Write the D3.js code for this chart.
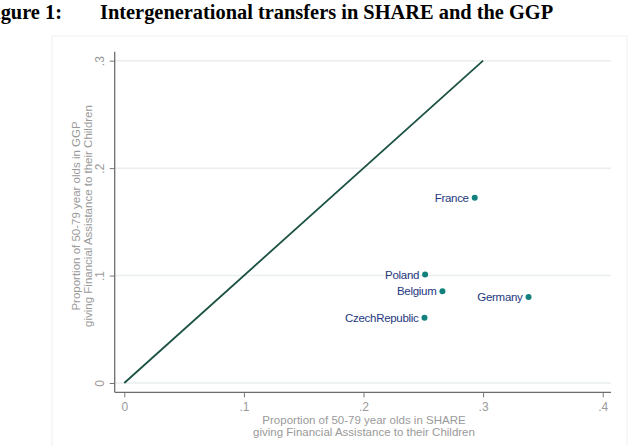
<!DOCTYPE html>
<html>
<head>
<meta charset="utf-8">
<script src="https://cdn.jsdelivr.net/npm/d3@7"></script>
<style>
  body { margin: 0; background: #fff; }
  svg { display: block; }
  text { font-family: Arial, "Liberation Sans", sans-serif; }
</style>
</head>
<body>
<div id="chart"></div>
<script>
const width = 642, height = 446;

// country points: SHARE proportion (x) vs GGP proportion (y)
const countries = ["France", "Poland", "Belgium", "Germany", "CzechRepublic"];
const shareValues = [0.293, 0.2515, 0.266, 0.338, 0.251];
const ggpValues = [0.1725, 0.101, 0.0855, 0.080, 0.0608];

// 45-degree reference line
const diagX = [0, 0.3];
const diagY = [0, 0.3];

const xTicks = [0, 0.1, 0.2, 0.3, 0.4];
const yTicks = [0, 0.1, 0.2, 0.3];

const svg = d3.select("#chart").append("svg")
    .attr("width", width)
    .attr("height", height);

const x = d3.scaleLinear().domain([0, 0.4]).range([124.3, 602.7]);
const y = d3.scaleLinear().domain([0, 0.3]).range([383, 60.7]);

const fmt = d => d === 0 ? "0" : d3.format(".1f")(d).replace(/^0/, "");

// title
svg.append("text")
    .attr("x", 62).attr("y", 19)
    .attr("text-anchor", "end")
    .style("font-family", "'Liberation Serif', 'Times New Roman', serif")
    .style("font-weight", "bold")
    .style("font-size", "20.4px")
    .text("Figure 1:");
svg.append("text")
    .attr("x", 100).attr("y", 19)
    .style("font-family", "'Liberation Serif', 'Times New Roman', serif")
    .style("font-weight", "bold")
    .style("font-size", "20.4px")
    .text("Intergenerational transfers in SHARE and the GGP");

// graph region frame
svg.append("rect")
    .attr("x", 52).attr("y", 36)
    .attr("width", 575).attr("height", 420)
    .attr("fill", "none")
    .attr("stroke", "#f0f0f0");

// gridlines
svg.append("g")
    .selectAll("line")
    .data(yTicks)
    .enter().append("line")
    .attr("x1", 115).attr("x2", 611)
    .attr("y1", d => y(d)).attr("y2", d => y(d))
    .attr("stroke", "#eaeeee")
    .attr("stroke-width", 1.5);

// x axis
const xAxis = svg.append("g")
    .attr("transform", "translate(0,392.3)")
    .call(d3.axisBottom(x).tickValues(xTicks).tickFormat(fmt).tickSize(5).tickSizeOuter(0).tickPadding(5));
xAxis.select(".domain").remove();
xAxis.selectAll(".tick line").attr("stroke", "#777");
xAxis.selectAll(".tick text")
    .attr("fill", "#9a9a9a")
    .style("font-size", "12px");

svg.append("line")
    .attr("x1", 114.7).attr("x2", 611)
    .attr("y1", 392.3).attr("y2", 392.3)
    .attr("stroke", "#6e6e6e")
    .attr("stroke-width", 1.3);

// y axis
const yAxis = svg.append("g")
    .attr("transform", "translate(114.7,0)")
    .call(d3.axisLeft(y).tickValues(yTicks).tickFormat(fmt).tickSize(5).tickSizeOuter(0));
yAxis.select(".domain").remove();
yAxis.selectAll(".tick line").attr("stroke", "#777");
yAxis.selectAll(".tick text")
    .attr("fill", "#9a9a9a")
    .attr("x", 0).attr("dy", 0)
    .attr("text-anchor", "middle")
    .attr("transform", "translate(-11.2,0) rotate(-90)")
    .style("font-size", "12px");

svg.append("line")
    .attr("x1", 114.7).attr("x2", 114.7)
    .attr("y1", 51.7).attr("y2", 392.3)
    .attr("stroke", "#6e6e6e")
    .attr("stroke-width", 1.3);

// axis titles
const xTitle = svg.append("text")
    .attr("text-anchor", "middle")
    .attr("fill", "#9a9a9a")
    .style("font-size", "11.5px");
xTitle.append("tspan").attr("x", 364).attr("y", 423.5)
    .text("Proportion of 50-79 year olds in SHARE");
xTitle.append("tspan").attr("x", 364).attr("y", 436)
    .text("giving Financial Assistance to their Children");

const yTitle = svg.append("text")
    .attr("text-anchor", "middle")
    .attr("fill", "#9a9a9a")
    .attr("transform", "translate(79.5,216) rotate(-90)")
    .style("font-size", "11.5px");
yTitle.append("tspan").attr("x", 0).attr("y", 0)
    .text("Proportion of 50-79 year olds in GGP");
yTitle.append("tspan").attr("x", 0).attr("y", 12)
    .text("giving Financial Assistance to their Children");

// diagonal line
const line = d3.line()
    .x(d => x(d[0]))
    .y(d => y(d[1]));
svg.append("path")
    .datum(d3.zip(diagX, diagY))
    .attr("d", line)
    .attr("fill", "none")
    .attr("stroke", "#1b5244")
    .attr("stroke-width", 1.8);

// points with labels
const pts = svg.append("g")
    .selectAll("g")
    .data(countries.map((c, i) => ({ name: c, sx: shareValues[i], gy: ggpValues[i] })))
    .enter().append("g")
    .attr("transform", d => `translate(${x(d.sx)},${y(d.gy)})`);

pts.append("circle")
    .attr("r", 3)
    .attr("fill", "#12807c");

pts.append("text")
    .attr("x", -6)
    .attr("dy", "0.36em")
    .attr("text-anchor", "end")
    .attr("fill", "#24397e")
    .style("font-size", "11.5px")
    .style("letter-spacing", "-0.3px")
    .text(d => d.name);
</script>
</body>
</html>
